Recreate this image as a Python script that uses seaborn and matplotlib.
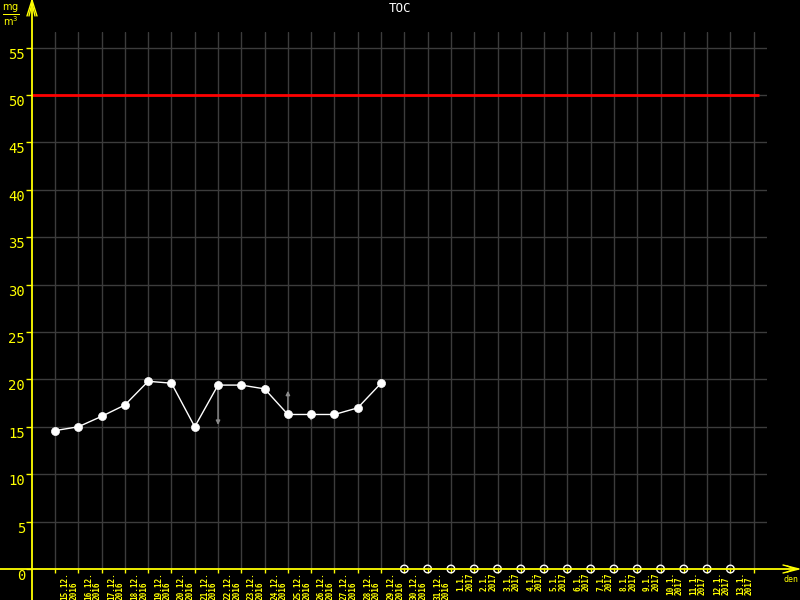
import matplotlib
matplotlib.use("Agg")
import matplotlib.pyplot as plt
from matplotlib.lines import Line2D
import seaborn as sns
import pandas as pd
import numpy as np

# ---- data ----
date_labels = [
    "15.12.\n2016", "16.12.\n2016", "17.12.\n2016", "18.12.\n2016", "19.12.\n2016",
    "20.12.\n2016", "21.12.\n2016", "22.12.\n2016", "23.12.\n2016", "24.12.\n2016",
    "25.12.\n2016", "26.12.\n2016", "27.12.\n2016", "28.12.\n2016", "29.12.\n2016",
    "30.12.\n2016", "31.12.\n2016", "1.1.\n2017", "2.1.\n2017", "3.1.\n2017",
    "4.1.\n2017", "5.1.\n2017", "6.1.\n2017", "7.1.\n2017", "8.1.\n2017",
    "9.1.\n2017", "10.1.\n2017", "11.1.\n2017", "12.1.\n2017", "13.1.\n2017",
]
toc_values = [14.6, 15.0, 16.1, 17.3, 19.8, 19.6, 15.0, 19.4, 19.4, 19.0,
              16.3, 16.3, 16.3, 17.0, 19.6]
missing_value = 0
limit_value = 50
arrow_days = [7, 8, 9, 10, 11]
arrow_ends = [15.2, 18.9, 19.5, 18.8, 15.6]
y_ticks = [0, 5, 10, 15, 20, 25, 30, 35, 40, 45, 50, 55]

YEL = "#ffff00"
GRID = "#3c3c3c"
MONO = "DejaVu Sans Mono"

sns.set_theme(style="dark", rc={"axes.facecolor": "black", "figure.facecolor": "black"})
plt.rcParams["font.family"] = [MONO, "DejaVu Sans"]

W, H = 800, 600
fig = plt.figure(figsize=(8, 6), dpi=100)
L, R, T, B = 32, 767, 32, 569
ax = fig.add_axes([L / W, 1 - B / H, (R - L) / W, (B - T) / H])
ax.set_facecolor("black")

n = len(date_labels)
measured = pd.DataFrame({"day": np.arange(len(toc_values)), "toc": toc_values})
empty = pd.DataFrame({"day": np.arange(len(toc_values), n),
                      "toc": [missing_value] * (n - len(toc_values))})

# axis limits (pixel-calibrated)
x0px, dxpx = 55, 23.29
ax.set_xlim((L - x0px) / dxpx, (R - x0px) / dxpx)
ppu = 9.48
ax.set_ylim(0, (B - T) / ppu)

# grid
for yv in y_ticks[1:]:
    ax.axhline(yv, color=GRID, lw=1, zorder=0)
for xv in range(n + 1):
    ax.axvline(xv, color=GRID, lw=1, zorder=0)

# limit line
ax.plot([ax.get_xlim()[0], (759 - x0px) / dxpx], [limit_value, limit_value],
        color="#ff0000", lw=2, zorder=2, solid_capstyle="butt")

# series
sns.lineplot(data=measured, x="day", y="toc", color="white", lw=1, ax=ax,
             zorder=4, legend=False)
sns.scatterplot(data=measured, x="day", y="toc", color="white", s=34,
                edgecolor="white", ax=ax, zorder=5, legend=False)
sns.scatterplot(data=empty, x="day", y="toc", s=30, facecolor="none",
                edgecolor="white", linewidth=1, ax=ax, zorder=5,
                legend=False, clip_on=False)

for d, e in zip(arrow_days, arrow_ends):
    ax.annotate("", xy=(d, e), xytext=(d, toc_values[d]),
                arrowprops=dict(arrowstyle="-|>", color="#8a8a8a", lw=1,
                                mutation_scale=6, shrinkA=0, shrinkB=0),
                zorder=3)

# ticks
ax.set_yticks(y_ticks)
ax.set_yticklabels([str(v) for v in y_ticks], color=YEL, fontsize=10, family=MONO)
for lab in ax.get_yticklabels():
    lab.set_va("top")
ax.tick_params(axis="y", length=4, width=1, color=YEL, pad=1, direction="out", left=True)
ax.set_xticks(np.arange(n + 1))
ax.set_xticklabels([""] + date_labels, rotation=90, fontsize=5.6, color=YEL,
                   family=MONO, ha="right", va="top", linespacing=0.95,
                   fontweight="bold")
ax.tick_params(axis="x", length=3, width=1, color=YEL, pad=-0.8, direction="out", bottom=True)
for lab in ax.get_xticklabels():
    lab.set_multialignment("left")
ax.set_xlabel("")
ax.set_ylabel("")
for s in ax.spines.values():
    s.set_visible(False)


def px(x, y):
    return (x / W, 1 - y / H)


def fline(xs, ys, **kw):
    fx = [x / W for x in xs]
    fy = [1 - y / H for y in ys]
    fig.add_artist(Line2D(fx, fy, transform=fig.transFigure, **kw))


# yellow axes with arrows
fline([L, L], [0, 600], color=YEL, lw=1.3)
fline([0, 798], [B, B], color=YEL, lw=1.3)
fline([L - 5, L, L + 5], [16, 0, 16], color=YEL, lw=1)
fline([L - 3, L, L + 3], [16, 3, 16], color=YEL, lw=1)
fline([783, 799, 783], [565, B, 573], color=YEL, lw=1)
fline([787, 795, 787], [566, B, 572], color=YEL, lw=1)

# texts
fig.text(*px(400, 9), "TOC", color="white", fontsize=9, family=MONO,
         ha="center", va="center")
fig.text(*px(791, 580), "den", color=YEL, fontsize=6, family=MONO,
         ha="center", va="center")
fig.text(*px(11, 15), r"$\frac{\mathrm{mg}}{\mathrm{m}^3}$", color=YEL, fontsize=10,
         ha="center", va="center")

fig.savefig("out.png", dpi=100, facecolor="black")
